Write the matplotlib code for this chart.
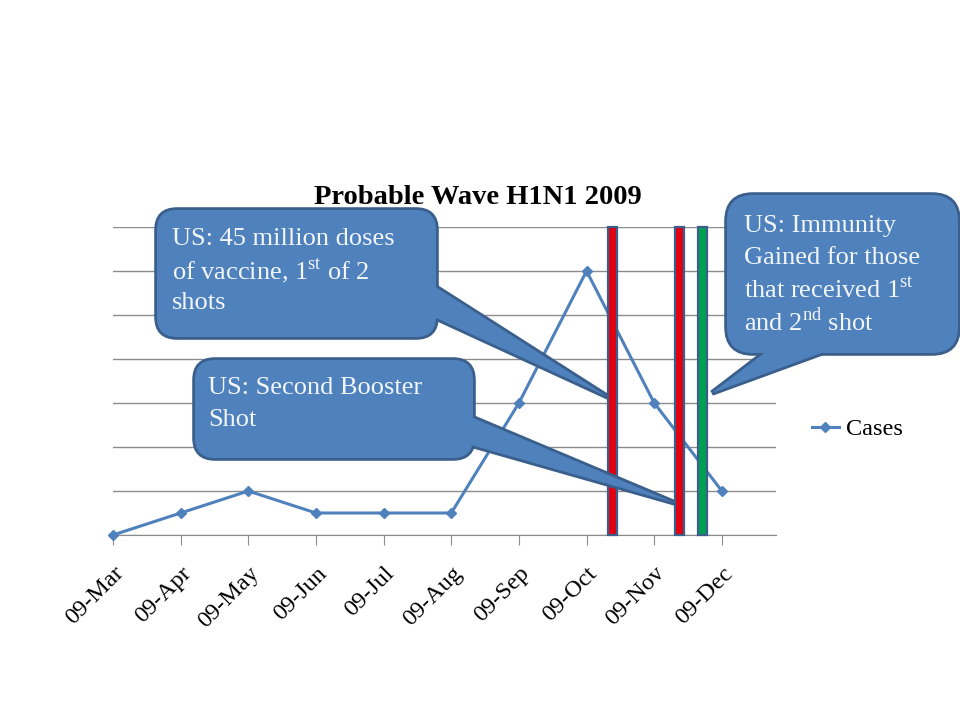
import matplotlib.pyplot as plt
from matplotlib.patches import FancyBboxPatch, Polygon

plt.rcParams['font.family'] = ['Liberation Serif', 'DejaVu Serif']
plt.rcParams['mathtext.fontset'] = 'custom'
plt.rcParams['mathtext.rm'] = 'Liberation Serif'

months = ['09-Mar', '09-Apr', '09-May', '09-Jun', '09-Jul', '09-Aug',
          '09-Sep', '09-Oct', '09-Nov', '09-Dec']
cases = [0, 0.5, 1, 0.5, 0.5, 0.5, 3, 6, 3, 1]

# vaccination events, in month units from Mar
event_pos = [7.38, 8.37, 8.71]
event_colors = ['#E3000F', '#E3000F', '#00A050']

callout_lines = [
    ['US: 45 million doses', 'of vaccine, 1$^{\\rm st}$ of 2', 'shots'],
    ['US: Second Booster', 'Shot'],
    ['US: Immunity', 'Gained for those', 'that received 1$^{\\rm st}$', 'and 2$^{\\rm nd}$ shot'],
]

line_color = '#4F81BD'
edge_color = '#3A5F8C'

fig = plt.figure(figsize=(9.6, 7.2), dpi=100)
ax = fig.add_axes([113 / 960, 1 - 535 / 720, (776 - 113) / 960, (535 - 227) / 720])

x = list(range(len(months)))
ax.plot(x, cases, color=line_color, lw=2.2, marker='D', ms=5.5, label='Cases',
        clip_on=False, zorder=3)
ax.bar(event_pos, [7] * len(event_pos), width=0.13, color=event_colors,
       edgecolor=edge_color, linewidth=1.6, clip_on=False, zorder=4, align='center')

ax.set_xlim(0, 9.8)
ax.set_ylim(0, 7)
ax.set_yticks(range(0, 8))
ax.yaxis.grid(True, color='#8C8C8C', lw=1)
ax.set_axisbelow(True)
ax.tick_params(axis='y', length=0, labelleft=False)
ax.set_xticks(x)
ax.set_xticklabels(months, rotation=45, ha='right', rotation_mode='anchor', fontsize=17.5)
ax.tick_params(axis='x', length=7, color='#8C8C8C', pad=13)
for s in ['left', 'right', 'top']:
    ax.spines[s].set_visible(False)
ax.spines['bottom'].set_color('#8C8C8C')

ax.legend(loc='center left', bbox_to_anchor=(812 / 960, 1 - 429 / 720),
          bbox_transform=fig.transFigure, frameon=False, fontsize=17.5,
          handlelength=1.1, handletextpad=0.3, borderaxespad=0, borderpad=0)

fig.text(478 / 960, 1 - 198 / 720, 'Probable Wave H1N1 2009', ha='center', va='center',
         fontsize=20.5, fontweight='bold')

# overlay in pixel coordinates for callouts
ov = fig.add_axes([0, 0, 1, 1], zorder=10)
ov.set_xlim(0, 960)
ov.set_ylim(720, 0)
ov.axis('off')
ov.patch.set_visible(False)

boxes = [(157, 210, 436, 337, 20), (195, 360, 473, 458, 20), (727, 195, 958, 353, 26)]
wedges = [[(434, 286), (608, 397), (434, 317)],
          [(471, 417), (675, 503), (471, 445)],
          [(767, 351), (712, 393), (827, 351)]]
text_pos = [(172, 239), (208, 388), (744, 226)]
spacing = 32

for (x0, y0, x1, y1, r), w, (tx, ty), lines in zip(boxes, wedges, text_pos, callout_lines):
    # outline pass then fill pass to merge wedge and box
    for lw, ec in [(4, edge_color), (0, 'none')]:
        ov.add_patch(FancyBboxPatch((x0 + r, y0 + r), x1 - x0 - 2 * r, y1 - y0 - 2 * r,
                                    boxstyle='round,pad=%d,rounding_size=%d' % (r, r),
                                    facecolor=line_color, edgecolor=ec, lw=lw))
        ov.add_patch(Polygon(w, closed=True, facecolor=line_color, edgecolor=ec, lw=lw,
                             joinstyle='miter'))
    for i, t in enumerate(lines):
        ov.text(tx, ty + i * spacing, t, color='#F2F6FB', fontsize=19,
                va='center', ha='left')

fig.savefig('out.png', dpi=100)
